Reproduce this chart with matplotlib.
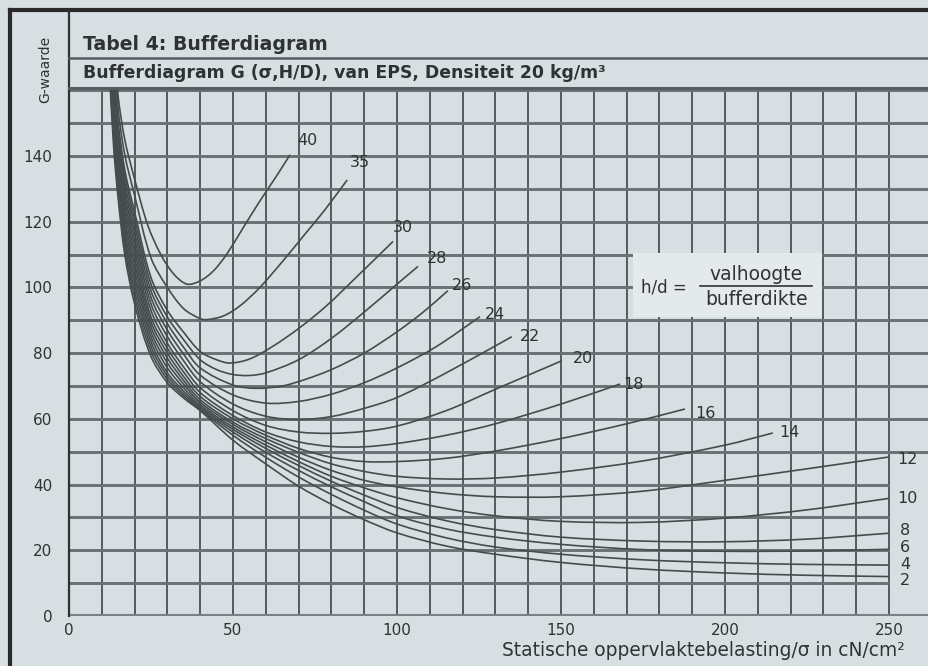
import matplotlib
matplotlib.use("Agg")
import matplotlib.pyplot as plt
from matplotlib.patches import Rectangle, PathPatch
from matplotlib.path import Path
from matplotlib.lines import Line2D

plt.rcParams['font.family'] = ['DejaVu Sans']

# ---------------- data ----------------
hd_values = [2, 4, 6, 8, 10, 12, 14, 16, 18, 20, 22, 24, 26, 28, 30, 35, 40]

sigma_2 = [12.3, 13.6, 15, 17, 20, 25, 30, 35, 40, 50, 60, 70, 80, 90, 100, 115, 130, 150, 175, 200, 225, 250]
g_2 = [166, 143, 127, 110, 95, 79, 71, 66.3, 62.5, 53.5, 46.3, 39.5, 34, 29.3, 25.3, 21.3, 18.8, 16.3, 14.3, 13.1, 12.4, 12]

sigma_4 = [12.4, 13.7, 15, 17, 20, 25, 30, 35, 40, 50, 60, 70, 80, 90, 100, 115, 130, 150, 175, 200, 225, 250]
g_4 = [166, 144, 128.6, 111.8, 97, 80.5, 72, 66.9, 62.8, 55, 48.3, 42.3, 37, 32.2, 28, 23.8, 21, 18.8, 17.1, 16.2, 15.7, 15.5]

sigma_6 = [12.5, 13.75, 15, 17, 20, 25, 30, 35, 40, 50, 60, 70, 80, 90, 100, 115, 130, 150, 175, 200, 225, 250]
g_6 = [166, 145, 130.3, 113.7, 99, 82, 73, 67.6, 63.2, 56, 49.8, 44.3, 39.3, 34.8, 30.5, 26.5, 24, 21.8, 20.2, 19.7, 19.8, 20.3]

sigma_8 = [12.65, 13.8, 15, 17, 20, 25, 30, 35, 40, 50, 60, 70, 80, 90, 100, 115, 130, 150, 175, 200, 225, 250]
g_8 = [166, 146, 131.9, 115.5, 101, 83.5, 74, 68.4, 63.7, 56.8, 51, 45.8, 41, 36.8, 33, 29, 26.3, 24, 22.8, 22.6, 23.4, 25.2]

sigma_10 = [12.75, 13.9, 15, 17, 20, 25, 30, 35, 40, 50, 60, 70, 80, 90, 100, 115, 130, 150, 175, 200, 225, 250]
g_10 = [166, 147, 133.6, 117.4, 103, 85, 75.5, 69.4, 64.3, 57.5, 52, 47, 42.5, 39, 36, 32.7, 30.5, 28.8, 28.5, 29.8, 32.3, 35.8]

sigma_12 = [12.9, 13.95, 15, 17, 20, 25, 30, 35, 40, 50, 60, 70, 80, 90, 100, 115, 130, 150, 175, 200, 225, 250]
g_12 = [166, 148, 135.2, 119.2, 105, 86.5, 77, 70.5, 65, 58.3, 53, 48.3, 44.3, 41.3, 39.3, 37.3, 36.3, 36.3, 38, 41.3, 44.8, 48.4]

sigma_14 = [13.0, 14.0, 15, 17, 20, 25, 30, 35, 40, 50, 60, 70, 80, 90, 100, 115, 130, 150, 175, 200, 214.6]
g_14 = [166, 149, 136.8, 121, 107, 88, 78.5, 71.6, 65.8, 59, 54, 49.8, 46.3, 44, 42.5, 41.7, 42, 43.8, 47.2, 52, 55.7]

sigma_16 = [13.1, 14.05, 15, 17, 20, 25, 30, 35, 40, 50, 60, 70, 80, 90, 100, 115, 130, 150, 170, 187.8]
g_16 = [166, 150, 138.5, 123, 109, 89.5, 80, 72.8, 66.8, 60, 55, 51, 48.3, 47, 47, 48, 50.2, 54, 58.5, 63]

sigma_18 = [13.2, 14.1, 15, 17, 20, 25, 30, 35, 40, 50, 60, 70, 80, 90, 100, 115, 130, 150, 168]
g_18 = [166, 151, 140.1, 124.8, 111, 91, 81.5, 74.2, 68, 61, 56, 53, 51.6, 51.5, 52.5, 55, 58.5, 64.5, 70.6]

sigma_20 = [13.35, 14.2, 15, 17, 20, 25, 30, 35, 40, 50, 60, 70, 80, 90, 100, 115, 130, 150.3]
g_20 = [166, 152, 141.8, 126.6, 113, 93, 83, 75.7, 69.5, 62.5, 58, 56, 55.6, 56.2, 57.8, 62.5, 69, 77.7]

sigma_22 = [13.45, 14.25, 15, 17, 20, 25, 30, 35, 40, 50, 60, 70, 80, 90, 100, 115, 135]
g_22 = [166, 153, 143.4, 128.4, 115, 95, 85, 77.6, 71.3, 64.5, 60.8, 59.8, 60.7, 63.2, 66.5, 74, 85]

sigma_24 = [13.6, 14.3, 15, 17, 20, 25, 30, 35, 40, 50, 60, 70, 80, 90, 100, 112, 125.3]
g_24 = [166, 154, 145, 130.3, 117, 97, 87, 79.6, 73.3, 67.3, 64.8, 65.3, 67.5, 71, 75.5, 82, 91.1]

sigma_26 = [13.7, 14.35, 15, 17, 20, 25, 30, 35, 40, 50, 57, 65, 72, 80, 90, 100, 108, 115.5]
g_26 = [166, 155, 146.7, 132, 119, 99, 89, 81.7, 75.5, 70.3, 69.3, 70, 72, 75, 80, 86.5, 92.5, 99]

sigma_28 = [13.8, 14.4, 15, 17, 20, 25, 30, 35, 40, 45, 50, 55, 60, 70, 80, 90, 100, 106.4]
g_28 = [166, 156, 148.3, 134, 121, 101, 91, 84, 78, 75, 73.5, 73.2, 74, 78, 84.5, 92.5, 101, 106.4]

sigma_30 = [13.9, 14.45, 15, 17, 20, 25, 30, 35, 40, 45, 49, 55, 62, 70, 78.6, 88, 98.8]
g_30 = [166, 157, 150, 135.8, 123, 103, 93, 86.3, 80.5, 78, 77, 78.2, 82, 87.5, 94.5, 103.5, 114]

sigma_35 = [14.2, 15, 17, 20, 25, 30, 35, 40, 42, 47, 52, 58, 65, 72, 78, 84.8]
g_35 = [166, 154, 140.4, 128, 109, 100, 93.5, 90.5, 90.2, 91.3, 94.3, 99.8, 107.8, 116.3, 123.6, 132.7]

sigma_40 = [14.5, 15, 17, 20, 24, 28, 32, 36, 40, 44, 48, 53, 58, 63, 67.4]
g_40 = [166, 158, 145, 133, 119, 110, 104, 101, 102, 105, 110, 118, 126, 133.5, 140.4]

x_ticks = [0, 50, 100, 150, 200, 250]
y_ticks = [0, 20, 40, 60, 80, 100, 120, 140]

title = "Tabel 4: Bufferdiagram"
subtitle = "Bufferdiagram G (σ,H/D), van EPS, Densiteit 20 kg/m³"
y_label = "G-waarde"
x_label = "Statische oppervlaktebelasting/σ in cN/cm²"

# ---------------- layout / style ----------------
W, H = 929, 666
XMAX, YMAX = 262.2, 160.7
PX_X, PX_Y = 3.28, 3.285          # pixels per data unit (for smooth tangents)
bg = '#d8dfe2'
ink = '#2e3234'
curve_col = '#464b4e'

label_offsets = {40: (5.2, 4.2), 35: (3.9, 5.2), 30: (3.0, 4.3), 28: (5.8, 2.5),
                 26: (4.3, 1.6), 24: (4.6, 0.6), 22: (5.5, 0.0), 20: (6.4, 0.6),
                 18: (4.0, 0.0), 16: (6.1, -1.5), 14: (5.2, 0.0), 12: (5.5, -0.7),
                 10: (5.5, 0.0), 8: (5.0, 0.8), 6: (5.0, 0.5), 4: (5.0, 0.1), 2: (5.0, -1.3)}

curves = {2: (sigma_2, g_2), 4: (sigma_4, g_4), 6: (sigma_6, g_6), 8: (sigma_8, g_8),
          10: (sigma_10, g_10), 12: (sigma_12, g_12), 14: (sigma_14, g_14),
          16: (sigma_16, g_16), 18: (sigma_18, g_18), 20: (sigma_20, g_20),
          22: (sigma_22, g_22), 24: (sigma_24, g_24), 26: (sigma_26, g_26),
          28: (sigma_28, g_28), 30: (sigma_30, g_30), 35: (sigma_35, g_35),
          40: (sigma_40, g_40)}


def smooth_path(xs, ys):
    """Cubic Bezier path through the given points (chord-length tangents)."""
    n = len(xs)
    px = [x * PX_X for x in xs]
    py = [y * PX_Y for y in ys]
    d = [((px[i + 1] - px[i]) ** 2 + (py[i + 1] - py[i]) ** 2) ** 0.5 for i in range(n - 1)]
    tx, ty = [], []
    for i in range(n):
        if i == 0:
            a, b, L = 0, 1, d[0]
        elif i == n - 1:
            a, b, L = n - 2, n - 1, d[-1]
        else:
            a, b, L = i - 1, i + 1, d[i - 1] + d[i]
        tx.append((px[b] - px[a]) / L)
        ty.append((py[b] - py[a]) / L)
    verts = [(xs[0], ys[0])]
    codes = [Path.MOVETO]
    for i in range(n - 1):
        h = d[i] / 3.0
        c1 = ((px[i] + tx[i] * h) / PX_X, (py[i] + ty[i] * h) / PX_Y)
        c2 = ((px[i + 1] - tx[i + 1] * h) / PX_X, (py[i + 1] - ty[i + 1] * h) / PX_Y)
        verts += [c1, c2, (xs[i + 1], ys[i + 1])]
        codes += [Path.CURVE4] * 3
    return Path(verts, codes)


fig = plt.figure(figsize=(W / 100, H / 100), dpi=100)
fig.patch.set_facecolor(bg)

ax = fig.add_axes([69 / W, 1 - 616 / H, 1 - 69 / W, 528 / H])
ax.set_facecolor(bg)
ax.set_xlim(0, XMAX)
ax.set_ylim(0, YMAX)
for s in ax.spines.values():
    s.set_visible(False)

# grid
for x in range(10, 251, 10):
    ax.plot([x, x], [0, YMAX], color='#30363a', lw=1.1, zorder=1, solid_capstyle='butt')
for y in range(10, 161, 10):
    ax.plot([0, XMAX if y >= 50 else 250], [y, y], color='#6a7174', lw=2.1, zorder=1,
            solid_capstyle='butt')
ax.plot([0, XMAX], [0, 0], color='#7b8285', lw=3.0, zorder=1, solid_capstyle='butt')

# h/d formula box
ax.add_patch(Rectangle((172, 91), 57.5, 19.5, facecolor='#e4eaec', edgecolor='none', zorder=2))
ax.text(181.5, 100, "h/d =", fontsize=12, color=ink, ha='center', va='center', zorder=4)
ax.text(209.5, 103.8, "valhoogte", fontsize=13.5, color=ink, ha='center', va='center', zorder=4)
ax.text(209.5, 96.2, "bufferdikte", fontsize=13.5, color=ink, ha='center', va='center', zorder=4)
ax.plot([192.5, 226.5], [100.3, 100.3], color=ink, lw=1.2, zorder=4)

# curves
for k in hd_values:
    sx, gy = curves[k]
    ax.add_patch(PathPatch(smooth_path(sx, gy), facecolor='none', edgecolor=curve_col,
                           lw=1.2, zorder=3))
    dx, dy = label_offsets[k]
    ax.text(sx[-1] + dx, gy[-1] + dy, str(k), fontsize=11.5, color=ink,
            ha='center', va='center', zorder=4, clip_on=False)

# ticks
ax.set_xticks(x_ticks)
ax.set_xticklabels([str(v) for v in x_ticks], fontsize=11, color=ink)
ax.set_yticks(y_ticks)
ax.set_yticklabels([str(v) for v in y_ticks], fontsize=11, color=ink)
ax.tick_params(axis='x', length=0, pad=5)
ax.tick_params(axis='y', length=0, pad=12)

# frame lines (figure pixel coords)
def px_line(x0, y0, x1, y1, **kw):
    fig.add_artist(Line2D([x0 / W, x1 / W], [1 - y0 / H, 1 - y1 / H], **kw))

px_line(10, 10, 10, H, color='#2a2a2a', lw=3.0)
px_line(10, 10, W, 10, color='#2a2a2a', lw=3.0)
px_line(68.5, 10, 68.5, 616, color=ink, lw=1.6)
px_line(68.5, 58, W, 58, color='#555b5e', lw=1.8)
px_line(68.5, 88, W, 88, color='#555b5e', lw=2.2)

fig.text(83 / W, 1 - 45 / H, title, fontsize=13.6, fontweight='bold', color=ink,
         ha='left', va='center')
fig.text(83 / W, 1 - 73 / H, subtitle, fontsize=12.4, fontweight='bold', color=ink,
         ha='left', va='center')
fig.text(45 / W, 1 - 69 / H, y_label, fontsize=10, color=ink, rotation=90,
         ha='center', va='center')
fig.text(905 / W, 1 - 651 / H, x_label, fontsize=13.4, color=ink, ha='right', va='center')

fig.savefig('out.png', dpi=100, facecolor=bg)
